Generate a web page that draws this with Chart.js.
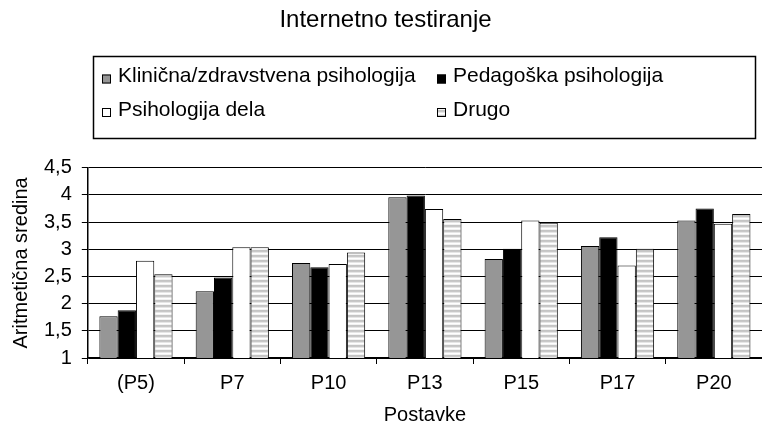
<!DOCTYPE html>
<html><head><meta charset="utf-8">
<script src="https://cdn.jsdelivr.net/npm/chart.js@4/dist/chart.umd.min.js"></script>
<style>html,body{margin:0;padding:0;background:#fff;overflow:hidden}#wrap{width:762px;height:436px}</style>
</head><body><div id="wrap"><canvas id="c" width="762" height="436"></canvas></div>
<script>
const categories = ['(P5)','P7','P10','P13','P15','P17','P20'];
const seriesNames = ['Klinična/zdravstvena psihologija','Pedagoška psihologija','Psihologija dela','Drugo'];
const klinicna  = [1.77, 2.23, 2.75, 3.96, 2.82, 3.06, 3.53];
const pedagoska = [1.88, 2.48, 2.67, 3.99, 3.01, 3.22, 3.75];
const dela      = [2.79, 3.04, 2.73, 3.74, 3.53, 2.70, 3.47];
const drugo     = [2.54, 3.04, 2.94, 3.56, 3.49, 3.01, 3.65];
const yTicks = [1, 1.5, 2, 2.5, 3, 3.5, 4, 4.5];
const yTickLabels = ['1', '1,5', '2', '2,5', '3', '3,5', '4', '4,5'];

const FONT = "'Liberation Sans', Arial, sans-serif";

function stripePattern(ctx) {
  const p = document.createElement('canvas');
  p.width = 4; p.height = 5;
  const g = p.getContext('2d');
  const rows = ['#c4c4c4', '#c8c8c8', '#e6e6e6', '#ffffff', '#f2f2f2'];
  rows.forEach((c, i) => { g.fillStyle = c; g.fillRect(0, i, 4, 1); });
  return ctx.createPattern(p, 'repeat');
}

const canvas = document.getElementById('c');
const ctx = canvas.getContext('2d');
const stripes = stripePattern(ctx);
const fills = ['#969696', '#000000', '#ffffff', stripes];
const seriesValues = [klinicna, pedagoska, dela, drugo];

const legendBox = {
  id: 'legendBox',
  afterDraw(chart) {
    const c = chart.ctx;
    c.save();
    c.lineWidth = 1.5;
    c.strokeStyle = '#000';
    c.strokeRect(93.5, 56.5, 662, 82);
    const pos = [[102, 75.5], [437, 75.5], [102, 109], [437, 109]];
    c.font = '21px ' + FONT;
    c.textBaseline = 'middle';
    chart.data.datasets.forEach((ds, i) => {
      const [x, y] = pos[i];
      c.fillStyle = ds.backgroundColor;
      c.fillRect(x, y - 1, 9, 9);
      c.lineWidth = 1;
      c.strokeStyle = '#000';
      c.strokeRect(x + 0.5, y - 0.5, 8, 8);
      c.fillStyle = '#000';
      c.fillText(ds.label, x + 16, y + 1);
    });
    c.restore();
  }
};

new Chart(ctx, {
  type: 'bar',
  data: {
    labels: categories,
    datasets: seriesNames.map((name, i) => ({
      label: name,
      data: seriesValues[i],
      backgroundColor: fills[i],
      borderColor: '#000',
      borderWidth: 1,
      barPercentage: 1,
      categoryPercentage: 0.76
    }))
  },
  options: {
    responsive: false,
    devicePixelRatio: 1,
    animation: false,
    layout: { padding: { left: 9, right: 0, top: 0, bottom: 10 } },
    plugins: {
      legend: { display: false },
      tooltip: { enabled: false },
      title: {
        display: true,
        text: 'Internetno testiranje',
        color: '#000',
        font: { family: FONT, size: 24, weight: 'normal' },
        padding: { top: 6, bottom: 133 }
      }
    },
    scales: {
      x: {
        offset: true,
        grid: { offset: true, drawOnChartArea: false, color: '#000', tickLength: 6, lineWidth: 1 },
        border: { color: '#000', width: 1.5 },
        ticks: { color: '#000', font: { family: FONT, size: 20 }, padding: 7, maxRotation: 0, autoSkip: false },
        title: { display: true, text: 'Postavke', color: '#000', font: { family: FONT, size: 20, lineHeight: 1.1 }, padding: { top: 2, bottom: 0 } }
      },
      y: {
        min: 1, max: 4.5,
        afterBuildTicks(scale) { scale.ticks = yTicks.map(v => ({ value: v })); },
        grid: { color: '#000', lineWidth: 1, tickLength: 6 },
        border: { color: '#000', width: 1.5 },
        ticks: {
          color: '#000', font: { family: FONT, size: 20 }, padding: 10, autoSkip: false,
          callback: (v) => yTickLabels[yTicks.indexOf(v)]
        },
        title: { display: true, text: 'Aritmetična sredina', color: '#000', font: { family: FONT, size: 20 }, padding: { top: 0, bottom: 1 } }
      }
    }
  },
  plugins: [legendBox]
});
</script>
</body></html>
